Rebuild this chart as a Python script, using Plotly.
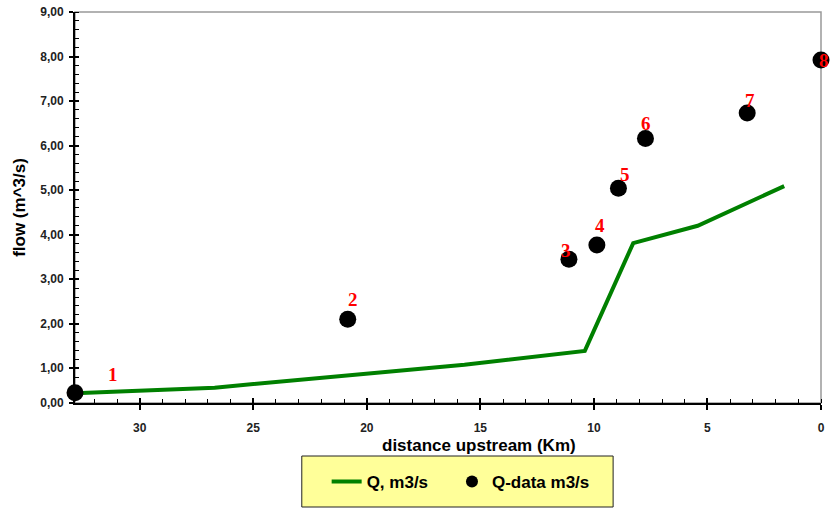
import plotly.graph_objects as go

# ---- data ----
q_dist = [32.85, 26.7, 15.7, 10.4, 8.27, 5.43, 1.62]
q_flow = [0.44, 0.565, 1.08, 1.39, 3.81, 4.20, 5.09]

data_dist = [32.85, 20.84, 11.1, 9.87, 8.92, 7.73, 3.25, 0.0]
data_flow = [0.45, 2.10, 3.45, 3.77, 5.04, 6.16, 6.73, 7.92]
data_labels = ["1", "2", "3", "4", "5", "6", "7", "8"]

x_tickvals = [30, 25, 20, 15, 10, 5, 0]
x_ticktext = ["30", "25", "20", "15", "10", "5", "0"]
y_tickvals = [0.22, 1, 2, 3, 4, 5, 6, 7, 8, 9]
y_ticktext = ["0,00", "1,00", "2,00", "3,00", "4,00", "5,00", "6,00", "7,00", "8,00", "9,00"]

label_dx = [38, 5, -3, 3, 7, 1, 3, 3]
label_dy = [18, 20, 9, 19, 14, 15, 13, 0]

fig = go.Figure()
fig.add_trace(go.Scatter(
    x=q_dist, y=q_flow, mode="lines", name="Q, m3/s",
    line=dict(color="#008000", width=4), cliponaxis=False, legend="legend"))
fig.add_trace(go.Scatter(
    x=data_dist, y=data_flow, mode="markers", name="Q-data m3/s",
    marker=dict(color="black", size=17), cliponaxis=False, legend="legend2"))

for x, y, t, dx, dy in zip(data_dist, data_flow, data_labels, label_dx, label_dy):
    fig.add_annotation(x=x, y=y, text=t, showarrow=False, xshift=dx, yshift=dy,
                       font=dict(family="Liberation Serif, Times New Roman, serif",
                                 size=19, color="#FF0000", weight="bold"))

tickfont = dict(family="Liberation Sans Narrow, Arial Narrow, Liberation Sans, Arial",
                size=12, color="#222222", weight="bold")
titlefont = dict(family="Liberation Sans, Arial, sans-serif", size=17,
                 color="black", weight="bold")

fig.update_xaxes(
    range=[32.85, 0], tickmode="array", tickvals=x_tickvals, ticktext=x_ticktext,
    showgrid=False, zeroline=False, showline=True, linecolor="black", linewidth=2,
    ticks="outside", ticklen=5, tickwidth=1.5, tickcolor="black",
    ticklabelstandoff=8, tickfont=tickfont,
    minor=dict(ticks="inside", ticklen=4, tickwidth=1.2, tickcolor="black",
               dtick=1, tick0=0, showgrid=False))
fig.update_yaxes(
    range=[0.22, 9], tickmode="array", tickvals=y_tickvals, ticktext=y_ticktext,
    showgrid=False, zeroline=False, showline=True, linecolor="black", linewidth=2,
    ticks="outside", ticklen=4, tickwidth=1.5, tickcolor="black",
    ticklabelstandoff=3, tickfont=tickfont,
    minor=dict(ticks="inside", ticklen=4, tickwidth=1.2, tickcolor="black",
               dtick=0.2, tick0=0, showgrid=False),
    title=dict(text="flow (m^3/s)", font=titlefont, standoff=10))

# overlay axes to make major ticks cross the axis lines
fig.update_layout(
    xaxis2=dict(overlaying="x", matches="x", anchor="y", side="bottom",
                tickmode="array", tickvals=x_tickvals, showticklabels=False,
                ticks="inside", ticklen=5, tickwidth=1.5, tickcolor="black",
                showgrid=False, zeroline=False, showline=False),
    yaxis2=dict(overlaying="y", matches="y", anchor="x", side="left",
                tickmode="array", tickvals=y_tickvals, showticklabels=False,
                ticks="inside", ticklen=4, tickwidth=1.5, tickcolor="black",
                showgrid=False, zeroline=False, showline=False),
)
fig.add_trace(go.Scatter(x=[data_dist[0]], y=[data_flow[0]], xaxis="x2", yaxis="y2",
                         mode="markers", marker=dict(opacity=0), showlegend=False,
                         hoverinfo="skip"))

# x-axis title placed as in reference
fig.add_annotation(xref="paper", yref="paper", x=(481 - 75) / 750, y=(403 - 445) / 391,
                   text="distance upstream (Km)", showarrow=False,
                   xanchor="center", yanchor="middle", font=titlefont)

# plot-area border (top/right grey)
fig.add_shape(type="rect", xref="paper", yref="paper", x0=0, x1=1, y0=0, y1=1,
              line=dict(color="#999999", width=1.5), layer="below")
# legend box
fig.add_shape(type="rect", xref="paper", yref="paper",
              x0=(303 - 75) / 750, x1=(616 - 75) / 750,
              y0=(403 - 507) / 391, y1=(403 - 456) / 391,
              fillcolor="#FFFF99", line=dict(color="#222222", width=1), layer="below")

legend_font = dict(family="Liberation Sans, Arial, sans-serif", size=17,
                   color="black", weight="bold")
fig.update_layout(
    width=830, height=511,
    margin=dict(l=75, r=5, t=12, b=108),
    paper_bgcolor="white", plot_bgcolor="white",
    showlegend=True,
    legend=dict(orientation="h", x=(328 - 75) / 750, xanchor="left",
                y=(403 - 482) / 391, yanchor="middle",
                bgcolor="rgba(0,0,0,0)", borderwidth=0,
                itemwidth=30, font=legend_font),
    legend2=dict(orientation="h", x=(454 - 75) / 750, xanchor="left",
                 y=(403 - 482) / 391, yanchor="middle",
                 bgcolor="rgba(0,0,0,0)", borderwidth=0,
                 itemwidth=30, itemsizing="constant", font=legend_font),
)

fig.write_html("out.html")
